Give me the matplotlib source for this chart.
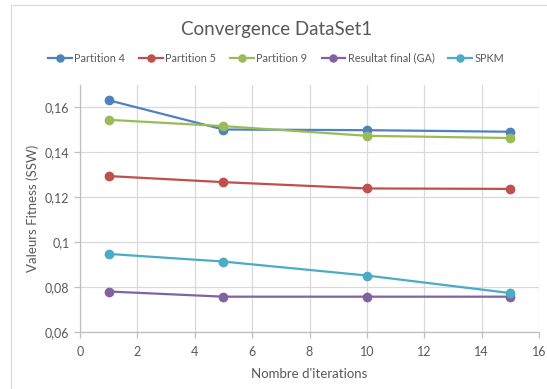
import matplotlib
matplotlib.use("Agg")
import matplotlib.pyplot as plt
from matplotlib.patches import Rectangle

plt.rcParams['font.family'] = ['Lato', 'DejaVu Sans']

iterations = [1, 5, 10, 15]
series_names = ["Partition 4", "Partition 5", "Partition 9", "Resultat final (GA)", "SPKM"]
partition4 = [0.163, 0.150, 0.1497, 0.149]
partition5 = [0.1293, 0.1266, 0.1238, 0.1236]
partition9 = [0.1543, 0.1515, 0.1472, 0.1462]
resultat_ga = [0.0780, 0.0757, 0.0757, 0.0757]
spkm = [0.0947, 0.0913, 0.0851, 0.0773]
colors = ["#4F81BD", "#C0504D", "#9BBB59", "#8064A2", "#4BACC6"]
xticks = [0, 2, 4, 6, 8, 10, 12, 14, 16]
yticks = [0.06, 0.08, 0.10, 0.12, 0.14, 0.16]
ytick_labels = ["0,06", "0,08", "0,1", "0,12", "0,14", "0,16"]

fig = plt.figure(figsize=(5.47, 3.89), dpi=100)
fig.patches.append(Rectangle((11/547, -0.1), 1.2, 1 - 5/389 + 0.1, transform=fig.transFigure,
                             fill=False, edgecolor="#D9D9D9", linewidth=0.8, zorder=0))
ax = fig.add_axes([80/547, 1 - 332/389, (539 - 80)/547, (332 - 84.5)/389])

all_series = [partition4, partition5, partition9, resultat_ga, spkm]
for name, vals, c in zip(series_names, all_series, colors):
    ax.plot(iterations, vals, color=c, marker="o", markersize=6, linewidth=1.6, label=name, zorder=3)

ax.set_xlim(0, 16)
ax.set_ylim(0.06, 0.17)
ax.set_xticks(xticks)
ax.set_yticks(yticks)
ax.set_yticklabels(ytick_labels)
ax.grid(True, color="#D9D9D9", linewidth=0.9)
ax.set_axisbelow(True)
for s in ["top", "right"]:
    ax.spines[s].set_visible(False)
for s in ["left", "bottom"]:
    ax.spines[s].set_color("#BFBFBF")
    ax.spines[s].set_linewidth(0.9)
ax.tick_params(axis="both", colors="#BFBFBF", labelcolor="#595959", labelsize=9, length=4, width=0.9)
ax.tick_params(axis="x", pad=6)

ax.set_xlabel("Nombre d'iterations", fontsize=9.5, color="#595959", labelpad=7)
ax.set_ylabel("Valeurs Fitness (SSW)", fontsize=9.5, color="#595959", labelpad=4)

fig.text(0.505, 1 - 30/389, "Convergence DataSet1", ha="center", va="center", fontsize=13.5, color="#595959")
handles, labels = ax.get_legend_handles_labels()
leg = fig.legend(handles, labels, loc="center", bbox_to_anchor=(0.505, 1 - 58/389), ncol=5, frameon=False,
                 fontsize=7.8, handlelength=2.2, columnspacing=1.3, handletextpad=0.2, labelcolor="#595959",
                 markerscale=0.85)

fig.savefig("out.png", dpi=100)
